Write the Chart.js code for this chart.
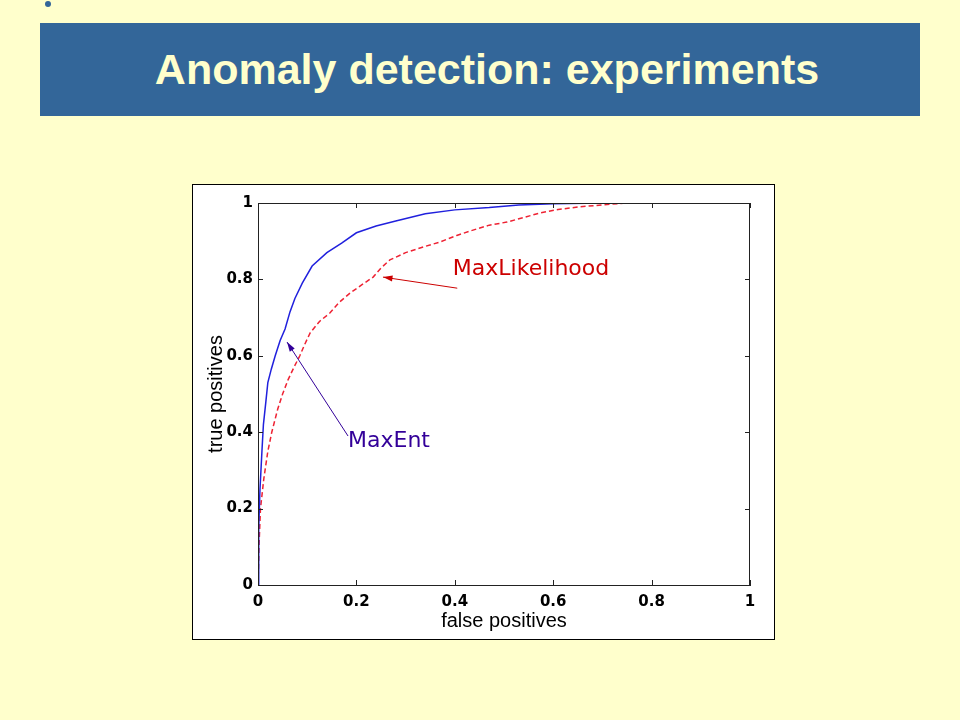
<!DOCTYPE html>
<html>
<head>
<meta charset="utf-8">
<script src="https://cdn.jsdelivr.net/npm/chart.js@4"></script>
<style>
  html, body { margin: 0; padding: 0; }
  body { width: 960px; height: 720px; background: #FFFFCC; position: relative; overflow: hidden; font-family: "Liberation Sans", Arial, sans-serif; }
  .dot { position: absolute; left: 45px; top: 1px; width: 6px; height: 6px; border-radius: 50%; background: #336699; }
  .bar { position: absolute; left: 40px; top: 23px; width: 880px; height: 93px; background: #336699; }
  .bar h1 { margin: 0; position: absolute; left: 14px; right: 0; top: 0; line-height: 93px; text-align: center; color: #FFFFCC; font-size: 43px; font-weight: bold; }
  .fig { position: absolute; left: 192px; top: 184px; width: 581px; height: 454px; border: 1px solid #000; background: #fff; }
  canvas { display: block; }
</style>
</head>
<body>
<div class="dot"></div>
<div class="bar"><h1>Anomaly detection: experiments</h1></div>
<div class="fig"><canvas id="roc" width="581" height="454"></canvas></div>
<script>
// ROC curves
const maxEntFpr = [0, 0.001, 0.002, 0.004, 0.008, 0.011, 0.016, 0.02, 0.027, 0.035, 0.045, 0.055, 0.065, 0.075, 0.09, 0.11, 0.14, 0.17, 0.2, 0.24, 0.28, 0.34, 0.4, 0.47, 0.53, 0.6, 0.7, 1];
const maxEntTpr = [0, 0.05, 0.15, 0.25, 0.35, 0.42, 0.48, 0.53, 0.565, 0.6, 0.64, 0.67, 0.715, 0.75, 0.79, 0.835, 0.87, 0.895, 0.922, 0.94, 0.953, 0.972, 0.982, 0.988, 0.995, 0.998, 1, 1];
const maxLikFpr = [0, 0.002, 0.005, 0.012, 0.02, 0.028, 0.04, 0.05, 0.061, 0.075, 0.085, 0.095, 0.106, 0.125, 0.146, 0.165, 0.187, 0.21, 0.234, 0.25, 0.268, 0.3, 0.336, 0.37, 0.404, 0.437, 0.47, 0.506, 0.54, 0.573, 0.61, 0.654, 0.7, 0.75, 1];
const maxLikTpr = [0, 0.1, 0.2, 0.28, 0.35, 0.4, 0.46, 0.5, 0.537, 0.575, 0.6, 0.63, 0.66, 0.69, 0.712, 0.74, 0.764, 0.785, 0.806, 0.83, 0.851, 0.87, 0.885, 0.898, 0.915, 0.929, 0.942, 0.95, 0.962, 0.974, 0.983, 0.99, 0.995, 1, 1];
const tickValues = [0, 0.2, 0.4, 0.6, 0.8, 1];

// labels with arrows: text position, arrow tail, arrow head (data units)
const notes = [
  { text: 'MaxLikelihood', color: '#CC0000', at: [0.396, 0.827], from: [0.405, 0.777], to: [0.254, 0.806] },
  { text: 'MaxEnt', color: '#330099', at: [0.183, 0.377], from: [0.183, 0.39], to: [0.059, 0.636] }
];

const toPoints = (xs, ys) => xs.map((x, i) => ({ x, y: ys[i] }));

const boxTicks = {
  id: 'boxTicks',
  afterDraw(chart) {
    const { ctx, chartArea: a, scales: { x, y } } = chart;
    ctx.save();
    ctx.strokeStyle = '#222';
    ctx.lineWidth = 1;
    ctx.strokeRect(a.left + 0.5, a.top + 0.5, a.right - a.left - 1, a.bottom - a.top);
    ctx.beginPath();
    for (const v of tickValues) {
      const px = Math.round(x.getPixelForValue(v)) + 0.5;
      ctx.moveTo(px, a.bottom); ctx.lineTo(px, a.bottom - 5);
      ctx.moveTo(px, a.top); ctx.lineTo(px, a.top + 5);
      const py = Math.round(y.getPixelForValue(v)) + 0.5;
      ctx.moveTo(a.left, py); ctx.lineTo(a.left + 5, py);
      ctx.moveTo(a.right, py); ctx.lineTo(a.right - 5, py);
    }
    ctx.stroke();

    for (const n of notes) {
      const tx = x.getPixelForValue(n.from[0]), ty = y.getPixelForValue(n.from[1]);
      const hx = x.getPixelForValue(n.to[0]), hy = y.getPixelForValue(n.to[1]);
      ctx.strokeStyle = n.color;
      ctx.fillStyle = n.color;
      ctx.beginPath(); ctx.moveTo(tx, ty); ctx.lineTo(hx, hy); ctx.stroke();
      const ang = Math.atan2(hy - ty, hx - tx);
      ctx.beginPath();
      ctx.moveTo(hx, hy);
      ctx.lineTo(hx - 10 * Math.cos(ang - 0.3), hy - 10 * Math.sin(ang - 0.3));
      ctx.lineTo(hx - 10 * Math.cos(ang + 0.3), hy - 10 * Math.sin(ang + 0.3));
      ctx.closePath(); ctx.fill();
      ctx.font = '22px "DejaVu Sans"';
      ctx.textAlign = 'left';
      ctx.textBaseline = 'middle';
      ctx.fillText(n.text, x.getPixelForValue(n.at[0]), y.getPixelForValue(n.at[1]));
    }
    ctx.restore();
  }
};

const tickFont = { family: '"DejaVu Sans"', size: 15, weight: 'bold' };
const titleFont = { family: '"Liberation Sans", Arial', size: 20 };

new Chart(document.getElementById('roc'), {
  type: 'scatter',
  data: {
    datasets: [
      { label: 'MaxEnt', data: toPoints(maxEntFpr, maxEntTpr), showLine: true, borderColor: '#2020DD', borderWidth: 1.5, pointRadius: 0, tension: 0 },
      { label: 'MaxLikelihood', data: toPoints(maxLikFpr, maxLikTpr), showLine: true, borderColor: '#EE2233', borderWidth: 1.5, borderDash: [5, 3], pointRadius: 0, tension: 0 }
    ]
  },
  options: {
    responsive: false,
    animation: false,
    layout: { padding: { top: 18, right: 24, left: 0, bottom: 0 } },
    plugins: { legend: { display: false }, tooltip: { enabled: false } },
    scales: {
      x: {
        type: 'linear', min: 0, max: 1,
        afterBuildTicks: s => { s.ticks = tickValues.map(v => ({ value: v })); },
        afterFit: s => { s.height = 54; },
        grid: { display: false, drawTicks: false },
        border: { display: true, color: '#222' },
        ticks: { color: '#000', font: tickFont, padding: 8, maxRotation: 0, callback: v => String(v) },
        title: { display: true, text: 'false positives', color: '#000', font: titleFont, padding: { top: 0, bottom: 6 } }
      },
      y: {
        type: 'linear', min: 0, max: 1,
        afterBuildTicks: s => { s.ticks = tickValues.map(v => ({ value: v })); },
        afterFit: s => { s.width = 65; },
        grid: { display: false, drawTicks: false },
        border: { display: true, color: '#222' },
        ticks: { color: '#000', font: tickFont, padding: 5, callback: v => String(v) },
        title: { display: true, text: 'true positives', color: '#000', font: titleFont, padding: { top: 11, bottom: 0 } }
      }
    }
  },
  plugins: [boxTicks]
});
</script>
</body>
</html>
